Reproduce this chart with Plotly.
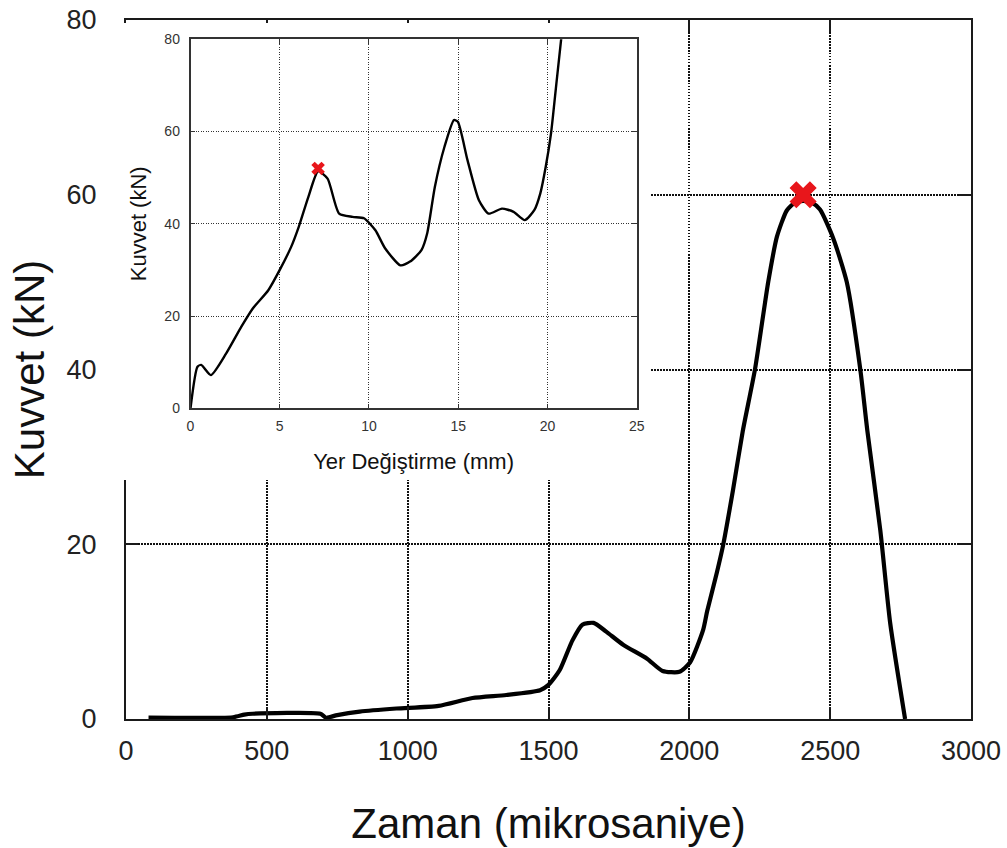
import plotly.graph_objects as go

# Main curve: force vs time
time_us = [80, 380, 420, 450, 690, 710, 750, 830, 960, 1110, 1230, 1350, 1470, 1500,
           1540, 1585, 1620, 1660, 1705, 1765, 1850, 1905, 1965, 2003, 2049, 2063,
           2098, 2120, 2155, 2190, 2233, 2280, 2311, 2346, 2375, 2404, 2435, 2464,
           2511, 2559, 2607, 2632, 2678, 2713, 2766]
force_main = [0.15, 0.2, 0.5, 0.6, 0.6, 0.15, 0.45, 0.85, 1.2, 1.5, 2.4, 2.75, 3.3, 3.9,
              5.6, 9.0, 10.8, 11.0, 10.0, 8.5, 6.9, 5.5, 5.4, 6.5, 10.2, 12.3,
              16.8, 19.9, 26.2, 33.0, 40.0, 50.0, 55.2, 58.2, 59.1, 59.3, 59.1, 58.3,
              55.0, 50.0, 40.0, 33.0, 21.6, 11.0, 0.0]

# Inset curve: force vs displacement
disp_mm = [0, 0.39, 0.6, 1.14, 2.0, 2.85, 3.5, 4.36, 5.0, 5.64, 6.07, 6.6, 7.15, 7.68,
           8.33, 9.08, 9.72, 10.36, 10.9, 11.76, 12.3, 12.94, 13.26, 13.69, 14.23,
           14.76, 14.98, 15.52, 16.16, 16.7, 17.45, 18.1, 18.73, 19.27, 19.6, 19.9,
           20.2, 20.5, 20.77]
force_inset = [0, 9.0, 9.4, 7.2, 11.9, 17.7, 21.7, 25.6, 30.0, 35.0, 39.4, 45.8, 51.4, 49.8,
               42.2, 41.5, 41.2, 38.6, 34.7, 31.0, 31.8, 34.3, 37.9, 48.0, 56.7,
               62.5, 62.1, 53.8, 45.1, 42.2, 43.3, 42.6, 40.8, 43.0, 46.6, 52.3,
               59.6, 70.4, 80.1]

# Failure points marked with a red cross
main_mark_time = [2404]
main_mark_force = [60.0]
inset_mark_disp = [7.15]
inset_mark_force = [52.0]

main_x_ticks = [0, 500, 1000, 1500, 2000, 2500, 3000]
main_y_ticks = [0, 20, 40, 60, 80]
inset_x_ticks = [0, 5, 10, 15, 20, 25]
inset_y_ticks = [0, 20, 40, 60, 80]

FONT = "Liberation Sans, Arial, sans-serif"
RED = "#e8161b"

fig = go.Figure()

fig.add_trace(go.Scatter(x=time_us, y=force_main, mode="lines",
                         line=dict(color="black", width=4.2, shape="spline", smoothing=0.6),
                         xaxis="x", yaxis="y", showlegend=False))
fig.add_trace(go.Scatter(x=main_mark_time, y=main_mark_force, mode="markers",
                         marker=dict(symbol="x", size=24, color=RED, line=dict(width=0)),
                         xaxis="x", yaxis="y", showlegend=False))

# Blank panel that hides the main grid behind the inset
fig.add_trace(go.Scatter(x=[], y=[], xaxis="x2", yaxis="y2", showlegend=False))

fig.add_trace(go.Scatter(x=disp_mm, y=force_inset, mode="lines",
                         line=dict(color="black", width=2.4, shape="spline", smoothing=0.6),
                         xaxis="x3", yaxis="y3", showlegend=False))
fig.add_trace(go.Scatter(x=inset_mark_disp, y=inset_mark_force, mode="markers",
                         marker=dict(symbol="x", size=12, color=RED, line=dict(width=0)),
                         xaxis="x3", yaxis="y3", showlegend=False))

L, R, T, B = 60, 36, 20, 129
W, H = 1007, 848
pw, ph = W - L - R, H - T - B


def px_x(p):
    return (p - L) / pw


def px_y(p):
    return (H - B - p) / ph


main_axis = dict(showline=True, linecolor="#1a1a1a", linewidth=2.2, mirror="ticks",
                 ticks="inside", ticklen=12, tickwidth=2, tickcolor="#1a1a1a",
                 showgrid=True, gridcolor="#111", gridwidth=1.5, griddash="1.5px,1.5px",
                 zeroline=False, automargin=False,
                 tickfont=dict(family=FONT, size=27, color="#222"))

inset_axis = dict(showline=True, linecolor="#333", linewidth=1.5,
                  mirror="ticks", ticks="inside", ticklen=5, tickcolor="#333",
                  showgrid=True, gridcolor="#333", gridwidth=1, griddash="1px,1.5px",
                  zeroline=False, automargin=False,
                  tickfont=dict(family=FONT, size=14, color="#333"))

fig.update_layout(
    width=W, height=H,
    margin=dict(l=L, r=R, t=T, b=B, autoexpand=False),
    paper_bgcolor="white", plot_bgcolor="white",
    xaxis=dict(main_axis, domain=[px_x(126), 1], range=[0, 3000], tickvals=main_x_ticks,
               ticklabelstandoff=6,
               title=dict(text="Zaman (mikrosaniye)", font=dict(family=FONT, size=42, color="#111"),
                          standoff=44)),
    yaxis=dict(main_axis, domain=[0, 1], range=[0, 80], tickvals=main_y_ticks,
               ticklabelstandoff=22,
               title=dict(text="Kuvvet (kN)", font=dict(family=FONT, size=42, color="#111"),
                          standoff=9)),
    xaxis2=dict(domain=[px_x(118), px_x(651)], visible=False, anchor="y2", range=[0, 1]),
    yaxis2=dict(domain=[px_y(480), px_y(23)], visible=False, anchor="x2", range=[0, 1]),
    xaxis3=dict(inset_axis, domain=[px_x(190.5), px_x(636.7)], anchor="y3", range=[0, 25],
                tickvals=inset_x_ticks, ticklabelstandoff=4,
                title=dict(text="Yer Değiştirme (mm)", font=dict(family=FONT, size=22, color="#111"),
                           standoff=21)),
    yaxis3=dict(inset_axis, domain=[px_y(408.3), px_y(39.3)], anchor="x3", range=[0, 80],
                tickvals=inset_y_ticks, ticklabelstandoff=6,
                title=dict(text="Kuvvet (kN)", font=dict(family=FONT, size=22, color="#111"),
                           standoff=12)),
)

fig.write_html("out.html")
